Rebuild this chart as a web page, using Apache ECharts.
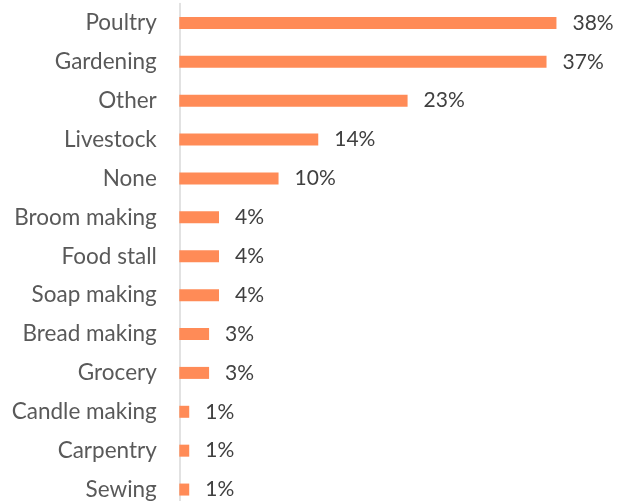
<!DOCTYPE html>
<html>
<head>
<meta charset="utf-8">
<script src="https://cdn.jsdelivr.net/npm/echarts@6/dist/echarts.min.js"></script>
<style>
  html, body { margin: 0; padding: 0; background: #ffffff; }
  #chart { width: 630px; height: 501px; }
</style>
</head>
<body>
<div id="chart"></div>
<script>
// Activities, listed top to bottom
const categories = [
  'Poultry', 'Gardening', 'Other', 'Livestock', 'None', 'Broom making',
  'Food stall', 'Soap making', 'Bread making', 'Grocery', 'Candle making',
  'Carpentry', 'Sewing'
];
// Share of respondents (%)
const shares = [38, 37, 23, 14, 10, 4, 4, 4, 3, 3, 1, 1, 1];

const FONT = 'Lato, "Open Sans", sans-serif';

const chart = echarts.init(document.getElementById('chart'), null, { renderer: 'canvas' });
chart.setOption({
  animation: false,
  backgroundColor: '#ffffff',
  grid: {
    left: 179.3, top: 3.5, width: 397, height: 505.5,
    containLabel: false,
    outerBoundsMode: 'none'
  },
  xAxis: {
    type: 'value', min: 0, max: 40,
    show: false
  },
  yAxis: {
    type: 'category',
    data: categories,
    inverse: true,
    offset: 1.5,
    axisLine: { show: true, lineStyle: { color: '#d9d9d9', width: 1.5 } },
    axisTick: { show: false },
    axisLabel: { color: '#595959', fontFamily: FONT, fontSize: 22.5, margin: 21 }
  },
  series: [{
    type: 'bar',
    data: shares,
    barWidth: 12,
    itemStyle: { color: '#FF8B57' },
    label: {
      show: true,
      position: 'right',
      distance: 16,
      formatter: p => p.value + '%',
      color: '#404040',
      fontFamily: FONT,
      fontSize: 21
    }
  }]
});
</script>
</body>
</html>
